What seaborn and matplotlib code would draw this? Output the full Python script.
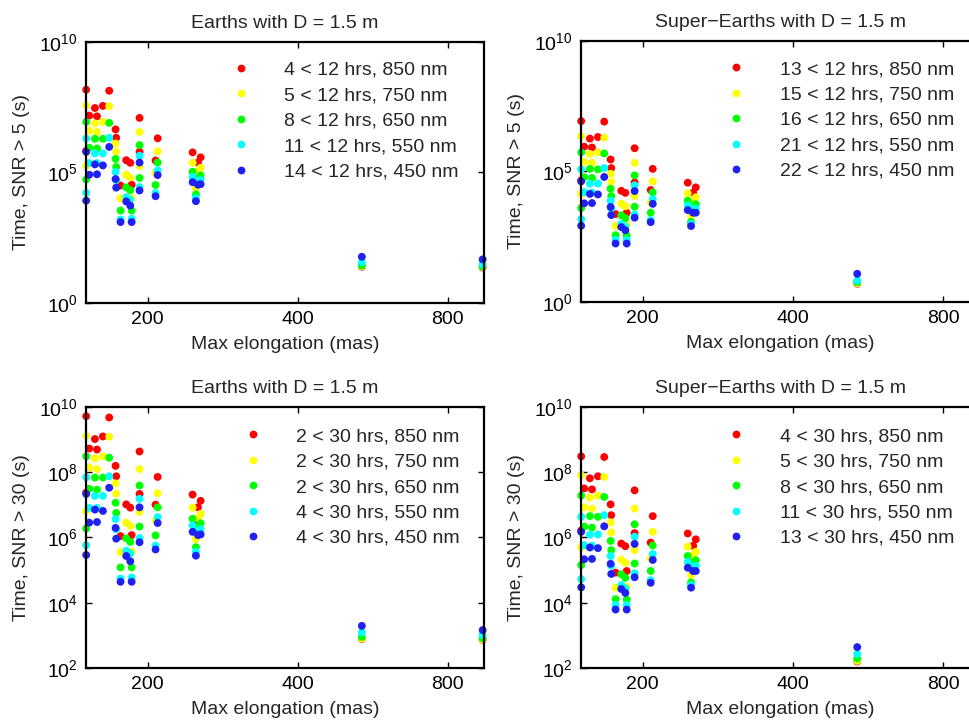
import numpy as np
import pandas as pd
import matplotlib
matplotlib.use("Agg")
import matplotlib.pyplot as plt
import seaborn as sns
from matplotlib.lines import Line2D

# ---------------- data ----------------
# maximum elongation of each planet (mas)
elongation_mas = [150.6, 150.6, 152.7, 156.8, 158.3, 162.7, 167.5, 172.5, 173.0,
                  176.5, 181.2, 184.6, 185.8, 192.7, 192.7, 209.5, 207.5,
                  246.2, 255.5, 252.4, 250.0, 538.0, 940.0]

wavelengths_nm = [850, 750, 650, 550, 450]
band_colors = ["#ff0000", "#ffff00", "#00ff00", "#00ffff", "#2020f0"]

# log10 of integration time (s); columns: 850, 750, 650, 550, 450 nm
earth_snr5_log10 = [
    [8.16, 7.56, 6.93, 6.29, 5.78], [5.82, 5.25, 4.72, 4.21, 3.91],
    [7.17, 6.59, 5.94, 5.35, 4.90], [7.46, 6.87, 6.28, 5.72, 5.30],
    [7.14, 6.54, 5.91, 5.35, 4.92], [7.54, 6.93, 6.28, 5.72, 5.26],
    [8.12, 7.53, 6.89, 6.32, 5.97], [6.64, 6.10, 5.51, 5.01, 4.74],
    [6.32, 5.79, 5.20, 4.70, 4.41], [4.49, 4.00, 3.53, 3.19, 3.09],
    [5.46, 4.90, 4.42, 4.04, 3.88], [5.36, 4.80, 4.31, 3.96, 3.72],
    [4.52, 4.01, 3.53, 3.22, 3.09], [7.08, 6.54, 6.04, 5.63, 5.37],
    [5.78, 5.23, 4.78, 4.43, 4.30], [6.30, 5.80, 5.37, 5.07, 4.89],
    [5.45, 4.97, 4.51, 4.20, 4.08], [5.76, 5.36, 5.02, 4.82, 4.62],
    [5.57, 5.17, 4.88, 4.70, 4.54], [5.37, 5.03, 4.77, 4.64, 4.52],
    [4.87, 4.40, 4.15, 4.01, 3.89], [1.38, 1.40, 1.43, 1.55, 1.76],
    [1.35, 1.37, 1.39, 1.47, 1.66],
]
super_snr5_log10 = [
    [6.93, 6.35, 5.73, 5.08, 4.62], [4.66, 4.14, 3.60, 3.17, 2.92],
    [5.95, 5.37, 4.78, 4.21, 3.78], [6.26, 5.67, 5.10, 4.53, 4.14],
    [5.92, 5.33, 4.75, 4.19, 3.79], [6.32, 5.73, 5.08, 4.54, 4.12],
    [6.91, 6.30, 5.69, 5.13, 4.79], [5.46, 4.91, 4.34, 3.88, 3.64],
    [5.13, 4.60, 4.06, 3.58, 3.33], [3.37, 2.91, 2.56, 2.38, 2.24],
    [4.26, 3.77, 3.32, 2.99, 2.87], [4.18, 3.67, 3.21, 2.89, 2.75],
    [3.42, 2.94, 2.55, 2.38, 2.24], [5.89, 5.33, 4.85, 4.47, 4.25],
    [4.58, 4.06, 3.65, 3.35, 3.23], [5.10, 4.62, 4.20, 3.94, 3.76],
    [4.29, 3.80, 3.42, 3.14, 3.06], [4.57, 4.16, 3.88, 3.70, 3.52],
    [4.39, 4.01, 3.75, 3.58, 3.42], [4.19, 3.89, 3.68, 3.54, 3.42],
    [3.70, 3.29, 3.07, 2.99, 2.91], [0.70, 0.72, 0.76, 0.82, 1.08],
    [0.62, 0.64, 0.68, 0.78, 0.95],
]
earth_snr30_log10 = [
    [9.71, 9.11, 8.48, 7.84, 7.33], [7.37, 6.80, 6.27, 5.76, 5.46],
    [8.72, 8.14, 7.49, 6.90, 6.45], [9.01, 8.42, 7.83, 7.27, 6.85],
    [8.69, 8.09, 7.46, 6.90, 6.47], [9.09, 8.48, 7.83, 7.27, 6.81],
    [9.67, 9.08, 8.44, 7.87, 7.52], [8.19, 7.65, 7.06, 6.56, 6.29],
    [7.87, 7.34, 6.75, 6.25, 5.96], [6.04, 5.55, 5.08, 4.74, 4.64],
    [7.01, 6.45, 5.97, 5.59, 5.43], [6.91, 6.35, 5.86, 5.51, 5.27],
    [6.07, 5.56, 5.08, 4.77, 4.64], [8.63, 8.09, 7.59, 7.18, 6.92],
    [7.33, 6.78, 6.33, 5.98, 5.85], [7.85, 7.35, 6.92, 6.62, 6.44],
    [7.00, 6.52, 6.06, 5.75, 5.63], [7.31, 6.91, 6.57, 6.37, 6.17],
    [7.12, 6.72, 6.43, 6.25, 6.09], [6.92, 6.58, 6.32, 6.19, 6.07],
    [6.42, 5.95, 5.70, 5.56, 5.44], [2.89, 2.90, 2.95, 3.09, 3.29],
    [2.86, 2.87, 2.91, 3.01, 3.16],
]
super_snr30_log10 = [
    [8.48, 7.90, 7.28, 6.63, 6.17], [6.21, 5.69, 5.15, 4.72, 4.47],
    [7.50, 6.92, 6.33, 5.76, 5.33], [7.81, 7.22, 6.65, 6.08, 5.69],
    [7.47, 6.88, 6.30, 5.74, 5.34], [7.87, 7.28, 6.63, 6.09, 5.67],
    [8.46, 7.85, 7.24, 6.68, 6.34], [7.01, 6.46, 5.89, 5.43, 5.19],
    [6.68, 6.15, 5.61, 5.13, 4.88], [4.92, 4.46, 4.11, 3.93, 3.79],
    [5.81, 5.32, 4.87, 4.54, 4.42], [5.73, 5.22, 4.76, 4.44, 4.30],
    [4.97, 4.49, 4.10, 3.93, 3.79], [7.44, 6.88, 6.40, 6.02, 5.80],
    [6.13, 5.61, 5.20, 4.90, 4.78], [6.65, 6.17, 5.75, 5.49, 5.31],
    [5.84, 5.35, 4.97, 4.69, 4.61], [6.12, 5.71, 5.43, 5.25, 5.07],
    [5.94, 5.56, 5.30, 5.13, 4.97], [5.74, 5.44, 5.23, 5.09, 4.97],
    [5.25, 4.84, 4.62, 4.54, 4.46], [2.20, 2.22, 2.29, 2.43, 2.64],
    [2.15, 2.17, 2.22, 2.35, 2.52],
]

# number of planets detected within the time limit, per band
earth_snr5_counts = [4, 5, 8, 11, 14]
super_snr5_counts = [13, 15, 16, 21, 22]
earth_snr30_counts = [2, 2, 2, 4, 4]
super_snr30_counts = [4, 5, 8, 11, 13]

titles = ["Earths with D = 1.5 m", "Super\u2212Earths with D = 1.5 m",
          "Earths with D = 1.5 m", "Super\u2212Earths with D = 1.5 m"]
ylabels = ["Time, SNR > 5 (s)", "Time, SNR > 5 (s)",
           "Time, SNR > 30 (s)", "Time, SNR > 30 (s)"]
xlabel = "Max elongation (mas)"
x_ticks = [200, 400, 800]
y_ticks_top = [1e0, 1e5, 1e10]
y_ticks_bottom = [1e2, 1e4, 1e6, 1e8, 1e10]

# ---------------- style ----------------
sns.set_theme(style="ticks")
plt.rcParams["font.family"] = ["Liberation Sans", "DejaVu Sans"]
plt.rcParams["mathtext.fontset"] = "custom"
plt.rcParams["mathtext.rm"] = "Liberation Sans"
plt.rcParams["mathtext.it"] = "Liberation Sans:italic"
plt.rcParams["mathtext.bf"] = "Liberation Sans:bold"
FS = 14

fig = plt.figure(figsize=(9.7, 7.28), dpi=100)
fig.patch.set_facecolor("white")

positions = [
    [0.0887, 0.5842, 0.4103, 0.3585],
    [0.5990, 0.5852, 0.4109, 0.3585],
    [0.0887, 0.0824, 0.4103, 0.3589],
    [0.5990, 0.0824, 0.4109, 0.3589],
]
panels = [
    (earth_snr5_log10, earth_snr5_counts, "12", (1e0, 1e10), y_ticks_top),
    (super_snr5_log10, super_snr5_counts, "12", (1e0, 1e10), y_ticks_top),
    (earth_snr30_log10, earth_snr30_counts, "30", (1e2, 1e10), y_ticks_bottom),
    (super_snr30_log10, super_snr30_counts, "30", (1e2, 1e10), y_ticks_bottom),
]
legend_anchor = [(0.364, 0.925), (0.365, 0.925), (0.394, 0.92), (0.365, 0.92)]

for k, (logs, counts, hrs, ylim, yticks) in enumerate(panels):
    ax = fig.add_axes(positions[k])
    labels = [f"{c} < {hrs} hrs, {w} nm" for c, w in zip(counts, wavelengths_nm)]
    rows = []
    for j, lab in enumerate(labels):
        for i, x in enumerate(elongation_mas):
            rows.append({"elong": x, "time": 10 ** logs[i][j], "band": lab})
    df = pd.DataFrame(rows)
    sns.scatterplot(data=df, x="elong", y="time", hue="band", hue_order=labels,
                    palette=dict(zip(labels, band_colors)), s=32, linewidth=0,
                    edgecolor="none", legend=False, ax=ax, clip_on=False)
    ax.set_xscale("log", base=2)
    ax.set_yscale("log")
    ax.set_xlim(150.5, 946)
    ax.set_ylim(*ylim)
    ax.set_xticks(x_ticks)
    ax.set_xticklabels([str(t) for t in x_ticks])
    ax.set_yticks(yticks)
    ax.minorticks_off()
    ax.tick_params(which="both", direction="in", top=True, right=True,
                   length=4, width=1, labelsize=FS, pad=6, colors="black")
    for sp in ax.spines.values():
        sp.set_linewidth(1.6)
        sp.set_color("black")
        sp.set_zorder(5)
    ax.set_title(titles[k], fontsize=FS, pad=10)
    ax.set_xlabel(xlabel, fontsize=FS)
    ax.set_ylabel(ylabels[k], fontsize=FS)
    ax.xaxis.set_label_coords(0.5, -0.128)
    ax.yaxis.set_label_coords(-0.141, 0.5)
    handles = [Line2D([], [], marker="o", linestyle="none", color=c,
                      markersize=5.6, markeredgewidth=0) for c in band_colors]
    ax.legend(handles, labels, loc="upper left", bbox_to_anchor=legend_anchor[k],
              frameon=False, fontsize=FS, handlelength=1.0, handletextpad=1.75,
              labelspacing=0.40, borderpad=0, borderaxespad=0)

fig.savefig("out.png", dpi=100, facecolor="white")
